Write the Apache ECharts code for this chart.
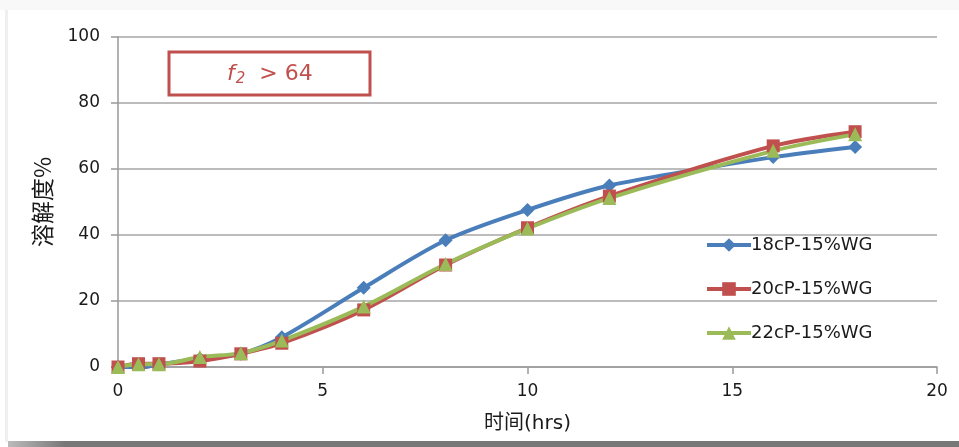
<!DOCTYPE html>
<html><head><meta charset="utf-8">
<script src="https://cdn.jsdelivr.net/npm/echarts@6/dist/echarts.min.js"></script>
<style>html,body{margin:0;padding:0;background:#fff}#c{width:959px;height:447px}</style>
</head><body><div id="c"></div>
<script>
const hours = [0, 0.5, 1, 2, 3, 4, 6, 8, 10, 12, 16, 18];
const s18 = [0, -0.3, 0.8, 2.5, 4, 9, 24, 38.4, 47.6, 55, 63.6, 66.7];
const s20 = [0, 1, 1, 1.8, 4, 7.2, 17.3, 30.9, 42.2, 51.8, 67, 71.3];
const s22 = [0, 0.8, 0.8, 3, 4.2, 8, 18.3, 31.2, 42, 51.2, 65.5, 70.5];
const seriesNames = ['18cP-15%WG', '20cP-15%WG', '22cP-15%WG'];
const xTicks = [0, 5, 10, 15, 20];
const yTicks = [0, 20, 40, 60, 80, 100];

const pair = (ys) => hours.map((h, i) => [h, ys[i]]);
const font = 'DejaVu Sans';
const chart = echarts.init(document.getElementById('c'));
const mk = (name, ys, color, symbol, size) => ({
  name, type: 'line', data: pair(ys), smooth: 0.3,
  symbol, symbolSize: size,
  lineStyle: { color, width: 4 },
  itemStyle: { color },
  emphasis: { disabled: true }
});
chart.setOption({
  animation: false,
  grid: { left: 118, right: 22, top: 37, bottom: 80 },
  xAxis: {
    type: 'value', min: xTicks[0], max: xTicks[xTicks.length - 1], interval: 5,
    name: '时间(hrs)', nameLocation: 'middle', nameGap: 47,
    nameTextStyle: { fontFamily: font + ', Noto Sans CJK SC', fontSize: 20, color: '#1a1a1a' },
    axisLine: { lineStyle: { color: '#999', width: 1.5 } },
    axisTick: { show: true, length: 7, lineStyle: { color: '#999', width: 1.5 } },
    axisLabel: { margin: 16, fontFamily: font, fontSize: 17, color: '#1a1a1a' },
    splitLine: { show: false }
  },
  yAxis: {
    type: 'value', min: yTicks[0], max: yTicks[yTicks.length - 1], interval: 20,
    name: '溶解度%', nameLocation: 'middle', nameGap: 64,
    nameTextStyle: { fontFamily: 'Noto Sans CJK SC', fontSize: 23, color: '#1a1a1a' },
    axisLine: { show: true, lineStyle: { color: '#999', width: 1.5 } },
    axisTick: { show: true, length: 7, lineStyle: { color: '#999', width: 1.5 } },
    axisLabel: { margin: 18, fontFamily: font, fontSize: 17, color: '#1a1a1a' },
    splitLine: { lineStyle: { color: '#a6a6a6', width: 1.5 } }
  },
  legend: {
    orient: 'vertical', left: 700, top: 231,
    itemWidth: 44, itemHeight: 17, itemGap: 26,
    lineStyle: { width: 4 },
    textStyle: { fontFamily: font, fontSize: 18, color: '#1a1a1a', padding: [0, 0, 0, -5] },
    data: seriesNames
  },
  series: [
    mk(seriesNames[0], s18, '#4a7ebb', 'diamond', 14),
    mk(seriesNames[1], s20, '#c0504d', 'rect', 13),
    mk(seriesNames[2], s22, '#9bbb59', 'triangle', 14)
  ],
  graphic: [
    { type: 'rect', shape: { x: 0, y: 0, width: 959, height: 10 }, style: { fill: '#f8f8f8' }, silent: true },
    { type: 'rect', shape: { x: 5, y: 10, width: 3, height: 432 }, style: { fill: '#efefef' }, silent: true },
    { type: 'rect', shape: { x: 8, y: 441, width: 951, height: 6 },
      style: { fill: new echarts.graphic.LinearGradient(0, 0, 1, 0, [
        { offset: 0, color: '#bbbbbb' }, { offset: 0.06, color: '#777777' }, { offset: 1, color: '#777777' }]) }, silent: true },
    { type: 'rect', shape: { x: 169, y: 52, width: 201, height: 43 },
      style: { fill: '#fff', stroke: '#c0504d', lineWidth: 3 }, silent: true },
    { type: 'text', left: 227, top: 63, silent: true,
      style: {
        text: '{i|f}{s|2}{n|  > 64}',
        rich: {
          i: { fontFamily: font, fontStyle: 'italic', fontSize: 22, fill: '#c0504d' },
          s: { fontFamily: font, fontStyle: 'italic', fontSize: 15, fill: '#c0504d', verticalAlign: 'bottom', padding: [11, 0, 0, 1] },
          n: { fontFamily: font, fontSize: 22, fill: '#c0504d' }
        }
      } }
  ]
});
</script></body></html>
